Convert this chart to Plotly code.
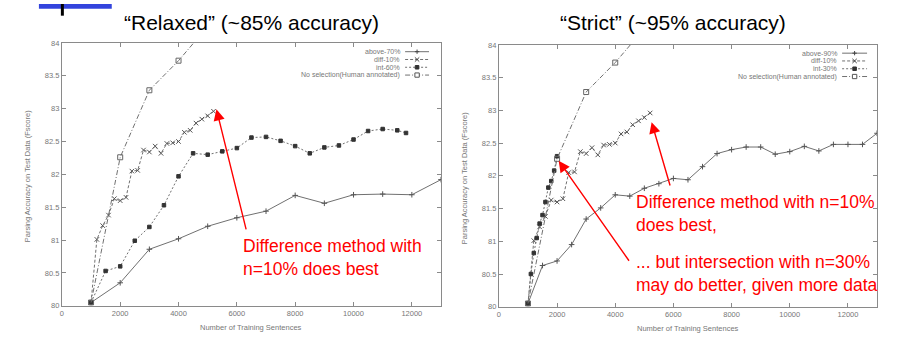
import plotly.graph_objects as go

# ---------------- data ----------------
human_x = [1000, 2000, 3000, 4000, 5000]
human_y = [80.05, 82.26, 83.28, 83.73, 84.25]

diff_x = [1000, 1200, 1400, 1600, 1800, 2000, 2200, 2400, 2600, 2800, 3000,
          3200, 3400, 3600, 3800, 4000, 4200, 4400, 4600, 4800, 5000, 5200]
diff_y = [80.05, 81.01, 81.22, 81.38, 81.63, 81.60, 81.65, 82.05, 82.06, 82.37, 82.34,
          82.43, 82.32, 82.47, 82.48, 82.50, 82.64, 82.67, 82.78, 82.84, 82.89, 82.96]

relaxed_int_x = [1000, 1500, 2000, 2500, 3000, 3500, 4000, 4500, 5000, 5500, 6000, 6500,
                 7000, 7500, 8000, 8500, 9000, 9500, 10000, 10500, 11000, 11500, 11800]
relaxed_int_y = [80.05, 80.53, 80.60, 80.99, 81.20, 81.53, 81.97, 82.32, 82.30, 82.35, 82.40, 82.56,
                 82.57, 82.51, 82.43, 82.32, 82.41, 82.44, 82.53, 82.66, 82.69, 82.67, 82.63]

relaxed_above_x = [1000, 2000, 3000, 4000, 5000, 6000, 7000, 8000, 9000, 10000, 11000, 12000, 13000]
relaxed_above_y = [80.05, 80.35, 80.86, 81.02, 81.21, 81.34, 81.44, 81.68, 81.56, 81.69, 81.70, 81.69, 81.92]

strict_above_x = [1000, 1500, 2000, 2500, 3000, 3500, 4000, 4500, 5000, 5500, 6000, 6500, 7000,
                  7500, 8000, 8500, 9000, 9500, 10000, 10500, 11000, 11500, 12000, 12500, 13000]
strict_above_y = [80.05, 80.63, 80.70, 80.95, 81.34, 81.51, 81.71, 81.69, 81.81, 81.88, 81.96, 81.94, 82.14,
                  82.34, 82.40, 82.44, 82.44, 82.33, 82.37, 82.45, 82.38, 82.48, 82.48, 82.48, 82.65]

strict_int_x = [1000, 1100, 1200, 1300, 1400, 1500, 1600, 1700, 1800, 1900, 2000]
strict_int_y = [80.05, 80.50, 80.82, 81.05, 81.27, 81.40, 81.60, 81.82, 81.92, 82.08, 82.30]

x_ticks = [0, 2000, 4000, 6000, 8000, 10000, 12000]
x_tick_labels = ["0", "2000", "4000", "6000", "8000", "10000", "12000"]
y_ticks = [80, 80.5, 81, 81.5, 82, 82.5, 83, 83.5, 84]
y_tick_labels = ["80", "80.5", "81", "81.5", "82", "82.5", "83", "83.5", "84"]

titles = ["\u201cRelaxed\u201d (~85% accuracy)", "\u201cStrict\u201d (~95% accuracy)"]
legend_left = ["above-70%", "diff-10%", "int-60%", "No selection(Human annotated)"]
legend_right = ["above-90%", "diff-10%", "int-30%", "No selection(Human annotated)"]

# ---------------- layout helpers ----------------
W, H = 897, 340
FONT = "Liberation Sans, Arial, sans-serif"
LINE = "#707070"
AXC = "#8a8a8a"
TXT = "#777777"


def px(x):
    return x / W


def py(y):
    return 1 - y / H


fig = go.Figure()

styles = {
    "above": dict(dash="solid", symbol="cross-thin", size=4, mcolor="#555"),
    "diff": dict(dash="3px,2px", symbol="x-thin", size=4.5, mcolor="#555"),
    "int": dict(dash="2px,2px", symbol="square", size=3.5, mcolor="#333"),
    "human": dict(dash="5px,2px,1px,2px", symbol="square-open", size=5, mcolor="#666"),
}


def add(xs, ys, kind, xa, ya):
    s = styles[kind]
    fig.add_trace(go.Scatter(
        x=xs, y=ys, mode="lines+markers", xaxis=xa, yaxis=ya, showlegend=False,
        line=dict(color=LINE, width=1, dash=s["dash"]),
        marker=dict(symbol=s["symbol"], size=s["size"], color=s["mcolor"],
                    line=dict(color=s["mcolor"], width=1)),
        hoverinfo="x+y",
    ))


add(relaxed_above_x, relaxed_above_y, "above", "x", "y")
add(diff_x, diff_y, "diff", "x", "y")
add(relaxed_int_x, relaxed_int_y, "int", "x", "y")
add(human_x, human_y, "human", "x", "y")

add(strict_above_x, strict_above_y, "above", "x2", "y2")
add(diff_x, diff_y, "diff", "x2", "y2")
add(strict_int_x, strict_int_y, "int", "x2", "y2")
add(human_x, human_y, "human", "x2", "y2")

axis_common = dict(showline=True, linecolor=AXC, linewidth=1, mirror="ticks",
                   ticks="inside", ticklen=4, tickcolor=AXC, showgrid=False, zeroline=False,
                   tickfont=dict(family=FONT, size=7.5, color=TXT))

fig.update_layout(
    width=W, height=H, margin=dict(l=0, r=0, t=0, b=0),
    paper_bgcolor="white", plot_bgcolor="white", showlegend=False,
    xaxis=dict(domain=[px(60), px(440)], range=[0, 13000], tickvals=x_ticks, ticktext=x_tick_labels,
               anchor="y", **axis_common),
    yaxis=dict(domain=[py(310), py(40)], range=[80, 84], tickvals=y_ticks, ticktext=y_tick_labels,
               anchor="x", **axis_common),
    xaxis2=dict(domain=[px(498), px(877)], range=[0, 13000], tickvals=x_ticks, ticktext=x_tick_labels,
                anchor="y2", **axis_common),
    yaxis2=dict(domain=[py(311), py(42)], range=[80, 84], tickvals=y_ticks, ticktext=y_tick_labels,
                anchor="x2", **axis_common),
)

ann = []
shapes = []

# titles
ann.append(dict(text=titles[0], x=px(250), y=py(19), xref="paper", yref="paper", showarrow=False,
                font=dict(family=FONT, size=21, color="black"), xanchor="center", yanchor="middle"))
ann.append(dict(text=titles[1], x=px(673), y=py(19), xref="paper", yref="paper", showarrow=False,
                font=dict(family=FONT, size=21, color="black"), xanchor="center", yanchor="middle"))

# axis titles
for (xc, yc) in [(25, 176), (463, 178)]:
    ann.append(dict(text="Parsing Accuracy on Test Data (Fscore)", x=px(xc), y=py(yc), xref="paper",
                    yref="paper", showarrow=False, textangle=-90,
                    font=dict(family=FONT, size=7.5, color=TXT), xanchor="center", yanchor="middle"))
for (xc, yc) in [(250, 332), (688, 333)]:
    ann.append(dict(text="Number of Training Sentences", x=px(xc), y=py(yc), xref="paper", yref="paper",
                    showarrow=False, font=dict(family=FONT, size=7.5, color=TXT),
                    xanchor="center", yanchor="middle"))

# manual gnuplot-style legends (text + line sample + glyph drawn with shapes)
dashes = ["solid", "3px,2px", "2px,2px", "5px,2px,1px,2px"]
kinds = ["plus", "x", "fsq", "osq"]


def glyph(kind, cx, cy):
    r = 2.2
    if kind == "plus":
        shapes.append(dict(type="line", xref="paper", yref="paper", x0=px(cx - r), x1=px(cx + r),
                           y0=py(cy), y1=py(cy), line=dict(color="#444", width=1)))
        shapes.append(dict(type="line", xref="paper", yref="paper", x0=px(cx), x1=px(cx),
                           y0=py(cy - r), y1=py(cy + r), line=dict(color="#444", width=1)))
    elif kind == "x":
        shapes.append(dict(type="line", xref="paper", yref="paper", x0=px(cx - r), x1=px(cx + r),
                           y0=py(cy - r), y1=py(cy + r), line=dict(color="#444", width=1)))
        shapes.append(dict(type="line", xref="paper", yref="paper", x0=px(cx - r), x1=px(cx + r),
                           y0=py(cy + r), y1=py(cy - r), line=dict(color="#444", width=1)))
    elif kind == "fsq":
        shapes.append(dict(type="rect", xref="paper", yref="paper", x0=px(cx - 1.8), x1=px(cx + 1.8),
                           y0=py(cy + 1.8), y1=py(cy - 1.8), fillcolor="#333",
                           line=dict(color="#333", width=1)))
    else:
        shapes.append(dict(type="rect", xref="paper", yref="paper", x0=px(cx - 2.2), x1=px(cx + 2.2),
                           y0=py(cy + 2.2), y1=py(cy - 2.2), fillcolor="white",
                           line=dict(color="#555", width=1)))


def legend(labels, text_right, line_x0, line_x1, rows):
    for lab, k, d, ry in zip(labels, kinds, dashes, rows):
        ann.append(dict(text=lab, x=px(text_right), y=py(ry), xref="paper", yref="paper", showarrow=False,
                        font=dict(family=FONT, size=7, color=TXT), xanchor="right", yanchor="middle"))
        shapes.append(dict(type="line", xref="paper", yref="paper", x0=px(line_x0), x1=px(line_x1),
                           y0=py(ry), y1=py(ry), line=dict(color=LINE, width=1, dash=d)))
        glyph(k, (line_x0 + line_x1) / 2, ry)


legend(legend_left, 401, 404, 428, [49, 57, 65, 73])
legend(legend_right, 839, 842, 867, [50.5, 58.5, 66.5, 74.5])

# red call-out texts
RED = "#ff0000"
ann.append(dict(text="Difference method with<br>n=10% does best", x=px(240), y=py(260), xref="paper",
                yref="paper", showarrow=False, align="left", xanchor="left", yanchor="middle",
                font=dict(family=FONT, size=17.5, color=RED)))
ann.append(dict(text="Difference method with n=10%<br>does best,", x=px(633), y=py(215), xref="paper",
                yref="paper", showarrow=False, align="left", xanchor="left", yanchor="middle",
                font=dict(family=FONT, size=17.5, color=RED)))
ann.append(dict(text="... but intersection with n=30%<br>may do better, given more data", x=px(633),
                y=py(277), xref="paper", yref="paper", showarrow=False, align="left", xanchor="left",
                yanchor="middle", font=dict(family=FONT, size=17.5, color=RED)))

# red arrows (tip, tail) in data units
arrows = [("x", "y", 5300, 82.99, 6330, 81.14),
          ("x2", "y2", 5250, 82.82, 5900, 81.83),
          ("x2", "y2", 2055, 82.23, 4510, 80.68)]
for xr, yr, tx, ty, sx, sy in arrows:
    ann.append(dict(text="", x=tx, y=ty, ax=sx, ay=sy, xref=xr, yref=yr, axref=xr, ayref=yr,
                    showarrow=True, arrowhead=2, arrowsize=1.6, arrowwidth=1.4, arrowcolor=RED))

# slide decoration at top-left
shapes.append(dict(type="rect", xref="paper", yref="paper", x0=px(37), x1=px(110), y0=py(5), y1=py(0),
                   fillcolor="#3344dd", line=dict(width=0)))
shapes.append(dict(type="rect", xref="paper", yref="paper", x0=px(59), x1=px(62), y0=py(12), y1=py(0),
                   fillcolor="black", line=dict(width=0)))

fig.update_layout(annotations=ann, shapes=shapes)
fig.write_html("out.html")
